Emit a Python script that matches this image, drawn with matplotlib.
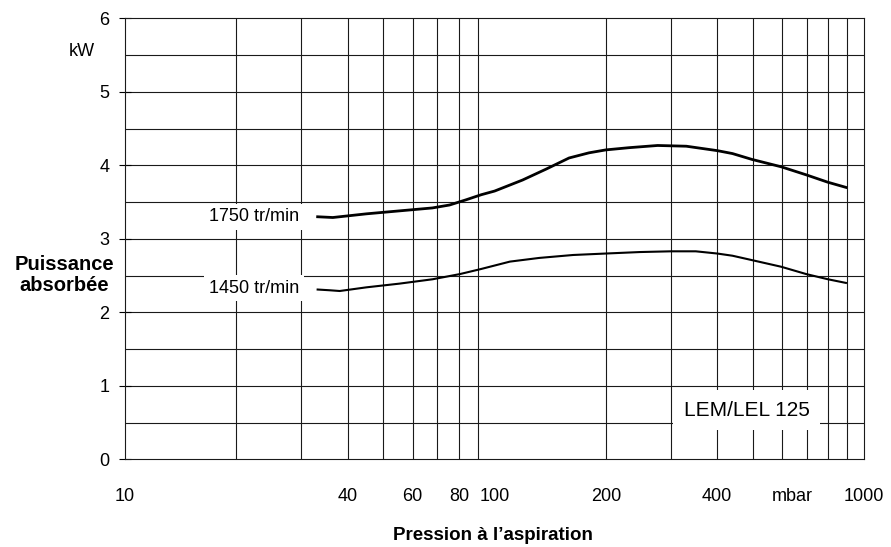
import matplotlib
matplotlib.use("Agg")
import matplotlib.pyplot as plt

plt.rcParams['font.family'] = ['Liberation Sans', 'DejaVu Sans']

# pressure (mbar) / absorbed power (kW)
p_1750 = [33.2, 36.5, 45, 55.2, 67.8, 75.5, 83.6, 92, 100, 119, 138, 159, 180, 200,
          231, 276, 330, 400, 440, 497, 596, 697, 797, 892]
kw_1750 = [3.30, 3.29, 3.34, 3.38, 3.42, 3.46, 3.53, 3.60, 3.65, 3.80, 3.95, 4.10, 4.17, 4.21,
           4.24, 4.27, 4.26, 4.20, 4.16, 4.08, 3.98, 3.87, 3.77, 3.70]

p_1450 = [33.2, 35.8, 38.1, 45, 55.2, 68, 80.5, 92, 110, 132, 163, 200, 247,
          300, 350, 400, 440, 497, 596, 697, 797, 892]
kw_1450 = [2.31, 2.30, 2.29, 2.34, 2.39, 2.45, 2.52, 2.59, 2.69, 2.74, 2.78, 2.80, 2.82,
           2.83, 2.83, 2.80, 2.77, 2.71, 2.62, 2.52, 2.45, 2.40]

x_ticks = [10, 40, 60, 80, 100, 200, 400, 640, 1000]
x_labels = ['10', '40', '60', '80', '100', '200', '400', 'mbar', '1000']
y_ticks = [0, 1, 2, 3, 4, 5, 6]

fig = plt.figure(figsize=(8.91, 5.47), dpi=100)
ax = fig.add_axes([0.1403, 0.1603, 0.8297, 0.8062])

ax.set_xscale('log')
ax.set_xlim(10, 1000)
ax.set_ylim(0, 6)

# grid: 1..9 per decade, every 0.5 kW
for dec in [10, 100]:
    for k in range(2, 10):
        ax.axvline(dec * k, color='#1a1a1a', lw=0.8, zorder=1)
for k in range(1, 12):
    ax.axhline(k * 0.5, color='#1a1a1a', lw=0.8, zorder=1)

ax.plot(p_1750, kw_1750, color='black', lw=2.0, zorder=3)
ax.plot(p_1450, kw_1450, color='black', lw=1.5, zorder=3)

ax.text(29.6, 3.30, '1750 tr/min', fontsize=13, ha='right', va='center', zorder=2,
        bbox=dict(boxstyle='square,pad=0.25', fc='white', ec='none'))
ax.text(29.6, 2.33, '1450 tr/min', fontsize=13, ha='right', va='center', zorder=2,
        bbox=dict(boxstyle='square,pad=0.25', fc='white', ec='none'))
ax.text(481, 0.67, 'LEM/LEL 125', fontsize=15, ha='center', va='center', zorder=2,
        bbox=dict(boxstyle='square,pad=0.5', fc='white', ec='none'))

ax.set_xticks(x_ticks)
ax.set_xticklabels(x_labels)
ax.set_xticks([10, 100, 1000], minor=True)
ax.tick_params(axis='x', which='major', length=0, pad=21, labelsize=13)
ax.tick_params(axis='x', which='minor', direction='out', length=4, width=0.8)
ax.set_yticks(y_ticks)
ax.tick_params(axis='y', which='major', direction='inout', length=8.6, width=0.8,
               pad=7, labelsize=13)
ax.yaxis.set_minor_locator(plt.NullLocator())

for s in ax.spines.values():
    s.set_linewidth(0.8)
    s.set_color('#1a1a1a')

fig.text(82 / 891, 1 - 51 / 547, 'kW', fontsize=13, ha='center', va='center')
fig.text(64 / 891, 1 - 275 / 547, 'Puissance\nabsorbée', fontsize=14.5,
         fontweight='bold', ha='center', va='center', multialignment='center',
         linespacing=1.1)
fig.text(493 / 891, 1 - 535 / 547, 'Pression à l’aspiration', fontsize=13.5,
         fontweight='bold', ha='center', va='center')

fig.savefig('out.png', dpi=100)
